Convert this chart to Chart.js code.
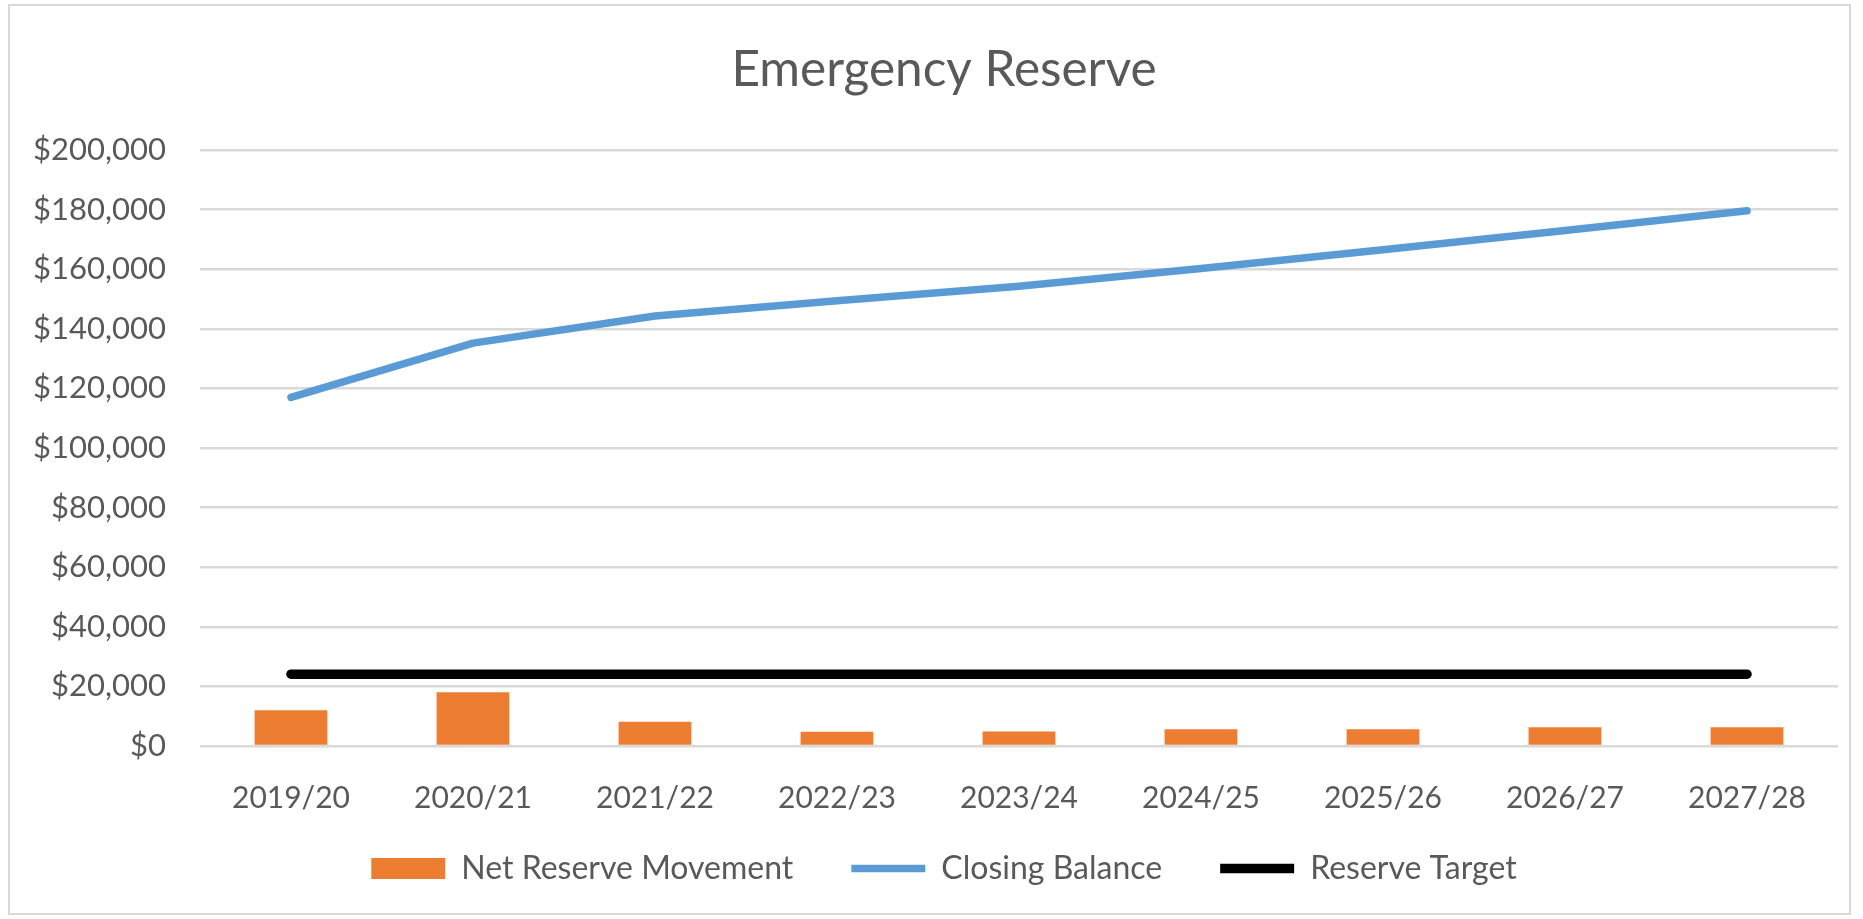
<!DOCTYPE html>
<html>
<head>
<meta charset="utf-8">
<script src="https://cdn.jsdelivr.net/npm/chart.js@4.4.1/dist/chart.umd.min.js"></script>
<style>
html,body{margin:0;padding:0;background:#fff;overflow:hidden}
canvas{display:block}
</style>
</head>
<body>
<canvas id="c" width="1863" height="919"></canvas>
<script>
// ---- data ----
const categories = ['2019/20','2020/21','2021/22','2022/23','2023/24','2024/25','2025/26','2026/27','2027/28'];
const netReserveMovement = [12000, 18000, 8100, 4800, 4900, 5600, 5600, 6300, 6300];
const closingBalance = [117000, 135200, 144300, 149400, 154300, 160200, 166500, 173000, 179600];
const reserveTarget = [24100, 24100, 24100, 24100, 24100, 24100, 24100, 24100, 24100];
const yMin = 0, yMax = 200000, yStep = 20000;

const seriesNames = ['Net Reserve Movement', 'Closing Balance', 'Reserve Target'];
const chartTitle = 'Emergency Reserve';

const TEXT = '#595959';
Chart.defaults.font.family = 'Lato';

const frame = {
  id: 'frame',
  beforeDraw(chart) {
    // let tick labels extend outside their scale boxes
    Object.values(chart.scales).forEach(s => { s._computeLabelArea = () => undefined; });
    const ctx = chart.ctx;
    ctx.save();
    ctx.fillStyle = '#ffffff';
    ctx.fillRect(0, 0, chart.width, chart.height);
    ctx.strokeStyle = '#d9d9d9';
    ctx.lineWidth = 2;
    ctx.strokeRect(9, 5, 1841, 909);
    ctx.restore();
  }
};

new Chart(document.getElementById('c'), {
  type: 'bar',
  data: {
    labels: categories,
    datasets: [
      {
        type: 'bar',
        label: seriesNames[0],
        data: netReserveMovement,
        backgroundColor: '#ed7d31',
        borderWidth: 0,
        barPercentage: 0.4,
        categoryPercentage: 1.0,
        pointStyle: 'rect',
        order: 3
      },
      {
        type: 'line',
        label: seriesNames[1],
        data: closingBalance,
        borderColor: '#5b9bd5',
        backgroundColor: '#5b9bd5',
        borderWidth: 7.5,
        borderCapStyle: 'round',
        borderJoinStyle: 'round',
        pointRadius: 0,
        pointStyle: 'line',
        tension: 0,
        fill: false,
        order: 2
      },
      {
        type: 'line',
        label: seriesNames[2],
        data: reserveTarget,
        borderColor: '#000000',
        backgroundColor: '#000000',
        borderWidth: 9.5,
        borderCapStyle: 'round',
        borderJoinStyle: 'round',
        pointRadius: 0,
        pointStyle: 'line',
        tension: 0,
        fill: false,
        order: 1
      }
    ]
  },
  options: {
    responsive: false,
    animation: false,
    devicePixelRatio: 1,
    layout: { padding: { left: 50, right: 25, top: 0, bottom: 24.5 } },
    plugins: {
      title: {
        display: true,
        text: chartTitle,
        color: TEXT,
        font: { size: 49.5, weight: 'normal' },
        padding: { top: 40.3, bottom: 50.3 }
      },
      legend: {
        position: 'bottom',
        labels: {
          usePointStyle: true,
          pointStyleWidth: 74,
          boxHeight: 21,
          padding: 58,
          color: TEXT,
          font: { size: 32 },
          sort: (a, b) => a.datasetIndex - b.datasetIndex
        }
      },
      tooltip: { enabled: false }
    },
    scales: {
      x: {
        grid: { display: false },
        border: { display: false },
        ticks: { color: TEXT, font: { size: 30 }, padding: 26, maxRotation: 0, autoSkip: false },
        afterFit(s) { s.height = 48.5; }
      },
      y: {
        min: yMin,
        max: yMax,
        ticks: {
          stepSize: yStep,
          color: TEXT,
          font: { size: 31 },
          padding: 34,
          callback: v => '$' + Number(v).toLocaleString('en-US')
        },
        grid: { color: '#d9d9d9', lineWidth: 2.5, drawTicks: false },
        border: { display: false },
        afterFit(s) { s.width = 150; }
      }
    }
  },
  plugins: [frame]
});
</script>
</body>
</html>
